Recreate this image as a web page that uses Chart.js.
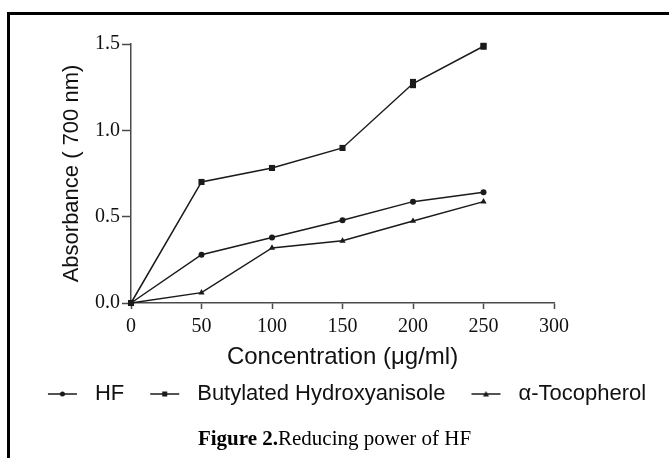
<!DOCTYPE html>
<html>
<head>
<meta charset="utf-8">
<script src="https://cdn.jsdelivr.net/npm/chart.js@4.4.0/dist/chart.umd.min.js"></script>
<style>
  html, body { margin: 0; padding: 0; background: #fff; }
  body { width: 669px; height: 458px; position: relative; overflow: hidden; }
  #frame { position: absolute; left: 7px; top: 12px; width: 700px; height: 500px;
           border-top: 3px solid #000; border-left: 3px solid #000; }
  #chart { position: absolute; left: 0; top: 0; }
  #caption { position: absolute; left: 0; top: 426px; width: 669px; line-height: 24px;
             text-align: center; font-family: 'Liberation Serif', 'Times New Roman', serif;
             font-size: 21px; color: #000; }
</style>
</head>
<body>
<div id="frame"></div>
<canvas id="chart" width="669" height="458"></canvas>
<div id="caption"><b>Figure 2.</b>Reducing power of HF</div>
<script>
// Data
const concentration = [0, 50, 100, 150, 200, 250];
const hf = [0, 0.28, 0.379, 0.479, 0.587, 0.642];
const bha = [0, 0.701, 0.782, 0.898, 1.271, 1.487];
const bhaError = [0, 0, 0, 0, 0.027, 0.02];
const tocopherol = [0, 0.06, 0.319, 0.36, 0.475, 0.587];
const seriesNames = ['HF', 'Butylated Hydroxyanisole', '\u03b1-Tocopherol'];

const xTicks = [0, 50, 100, 150, 200, 250, 300];
const yTicks = [0, 0.5, 1.0, 1.5];
const yTickLabels = ['0.0', '0.5', '1.0', '1.5'];

const lineColor = '#1a1a1a';
const axisColor = '#4a4a4a';
const sansFont = "'Liberation Sans', Arial, sans-serif";
const serifFont = "'Liberation Serif', 'Times New Roman', serif";

// small legend glyph: short line with the marker in the middle
function legendGlyph(style) {
  const c = document.createElement('canvas');
  c.width = 52; c.height = 12;
  const g = c.getContext('2d');
  g.strokeStyle = lineColor; g.fillStyle = lineColor; g.lineWidth = 1.5;
  g.beginPath(); g.moveTo(16, 6); g.lineTo(45, 6); g.stroke();
  const cx = 30.5, cy = 6;
  g.beginPath();
  if (style === 'circle') {
    g.arc(cx, cy, 2.5, 0, Math.PI * 2);
  } else if (style === 'rect') {
    g.rect(cx - 2.5, cy - 2.5, 5, 5);
  } else {
    g.moveTo(cx, cy - 3); g.lineTo(cx + 3, cy + 2.5); g.lineTo(cx - 3, cy + 2.5); g.closePath();
  }
  g.fill();
  return c;
}

function makeSeries(label, values, style, radius) {
  return {
    label: label,
    data: concentration.map((c, i) => ({ x: c, y: values[i] })),
    borderColor: lineColor,
    backgroundColor: lineColor,
    borderWidth: 1.5,
    pointStyle: style,
    pointRadius: radius,
    pointBorderWidth: 0,
    pointBackgroundColor: lineColor,
    tension: 0,
    clip: false,
    glyph: legendGlyph(style)
  };
}

// error bars for the BHA series (draws through the scales)
const errorBars = {
  id: 'errorBars',
  afterDatasetsDraw(chart) {
    const ctx = chart.ctx, xs = chart.scales.x, ys = chart.scales.y;
    ctx.save();
    ctx.strokeStyle = lineColor;
    ctx.lineWidth = 6;
    concentration.forEach((c, i) => {
      if (!bhaError[i]) return;
      const px = xs.getPixelForValue(c);
      ctx.beginPath();
      ctx.moveTo(px, ys.getPixelForValue(bha[i] - bhaError[i]));
      ctx.lineTo(px, ys.getPixelForValue(bha[i] + bhaError[i]));
      ctx.stroke();
    });
    ctx.restore();
  }
};

// place the legend row where the figure has it
const legendShift = {
  id: 'legendShift',
  afterLayout(chart) {
    chart.legend.left = 9;
    chart.legend.right = 669;
  }
};

new Chart(document.getElementById('chart'), {
  type: 'line',
  data: {
    datasets: [
      makeSeries(seriesNames[0], hf, 'circle', 3),
      makeSeries(seriesNames[1], bha, 'rect', 4.3),
      makeSeries(seriesNames[2], tocopherol, 'triangle', 3.6)
    ]
  },
  plugins: [errorBars, legendShift],
  options: {
    responsive: false,
    animation: false,
    layout: { padding: { left: 0, right: 0, top: 44, bottom: 43 } },
    plugins: {
      tooltip: { enabled: false },
      legend: {
        position: 'bottom',
        labels: {
          usePointStyle: true,
          pointStyleWidth: 52,
          padding: 10,
          color: '#111',
          font: { family: sansFont, size: 22 },
          generateLabels(chart) {
            const items = Chart.defaults.plugins.legend.labels.generateLabels(chart);
            items.forEach(it => { it.pointStyle = chart.data.datasets[it.datasetIndex].glyph; });
            return items;
          }
        }
      }
    },
    scales: {
      x: {
        type: 'linear',
        min: 0,
        max: 300,
        afterBuildTicks(scale) { scale.ticks = xTicks.map(v => ({ value: v })); },
        afterFit(scale) { scale.height = 70; },
        border: { display: true, color: axisColor, width: 1.5 },
        grid: { drawOnChartArea: false, drawTicks: true, tickLength: 6, tickColor: axisColor, tickWidth: 1.5 },
        ticks: { padding: 6, color: '#111', font: { family: serifFont, size: 20 }, maxRotation: 0 },
        title: {
          display: true,
          text: 'Concentration (\u03bcg/ml)',
          color: '#111',
          font: { family: sansFont, size: 24 },
          padding: { top: 0, bottom: 1 }
        }
      },
      y: {
        type: 'linear',
        min: 0,
        max: 1.5,
        afterBuildTicks(scale) { scale.ticks = yTicks.map(v => ({ value: v })); },
        afterFit(scale) { scale.width = 131; },
        border: { display: true, color: axisColor, width: 1.5 },
        grid: { drawOnChartArea: false, drawTicks: true, tickLength: 9, tickColor: axisColor, tickWidth: 1.5 },
        ticks: {
          padding: 2,
          color: '#111',
          font: { family: serifFont, size: 20 },
          callback: (v, i) => yTickLabels[i]
        },
        title: {
          display: true,
          text: 'Absorbance ( 700 nm)',
          color: '#111',
          font: { family: sansFont, size: 22 },
          padding: { top: 59, bottom: 0 }
        }
      },
      // empty right-hand box: keeps the plot at the figure's width
      spacer: {
        type: 'linear',
        position: 'right',
        display: true,
        afterFit(scale) { scale.width = 115; },
        border: { display: false },
        grid: { display: false },
        ticks: { display: false }
      }
    }
  }
});
</script>
</body>
</html>
